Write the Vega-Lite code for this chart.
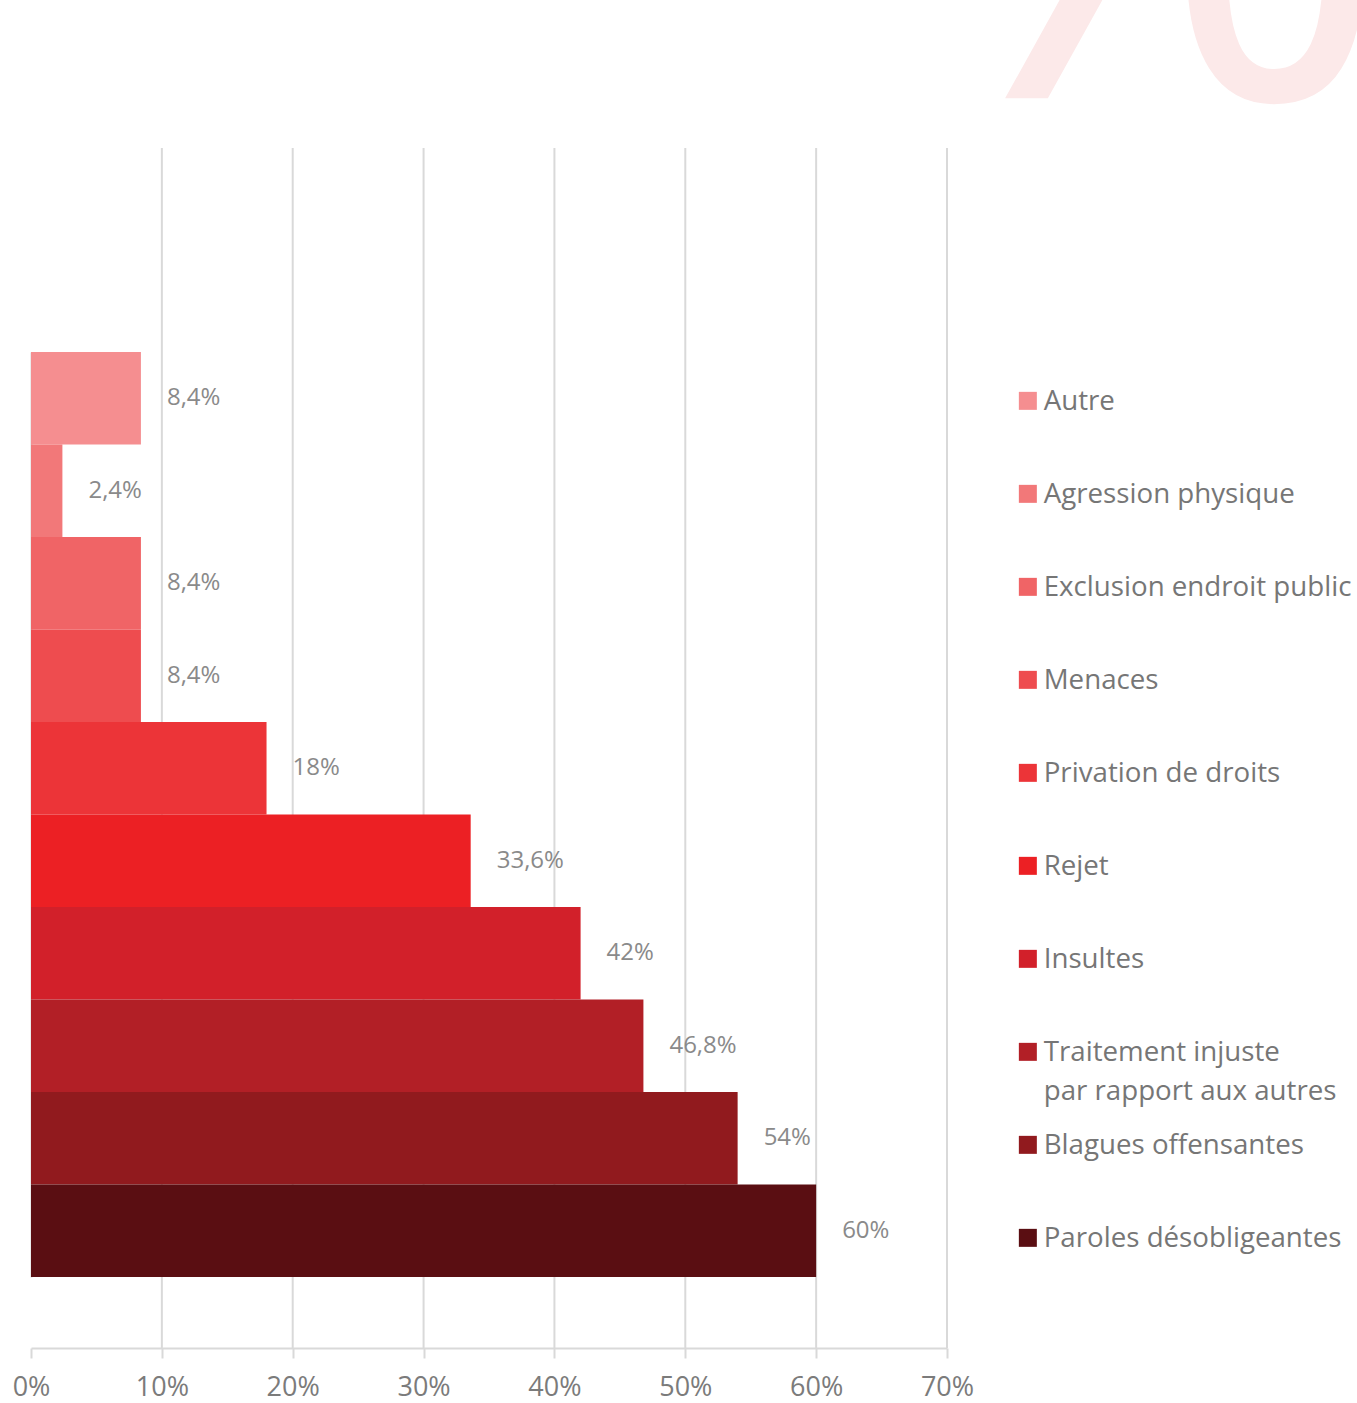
{
  "$schema": "https://vega.github.io/schema/vega-lite/v6.json",
  "width": 916,
  "height": 1333,
  "autosize": {"type": "none"},
  "padding": {"left": 31, "top": 15, "right": 410, "bottom": 55},
  "background": "white",
  "config": {
    "view": {"stroke": null},
    "font": "Open Sans",
    "locale": {"number": {"decimal": ",", "thousands": " ", "grouping": [3], "currency": ["", " €"]}}
  },
  "datasets": {
    "bars": [
      {"cat": "Autre", "v": 0.084},
      {"cat": "Agression physique", "v": 0.024},
      {"cat": "Exclusion endroit public", "v": 0.084},
      {"cat": "Menaces", "v": 0.084},
      {"cat": "Privation de droits", "v": 0.18},
      {"cat": "Rejet", "v": 0.336},
      {"cat": "Insultes", "v": 0.42},
      {"cat": "Traitement injuste par rapport aux autres", "v": 0.468},
      {"cat": "Blagues offensantes", "v": 0.54},
      {"cat": "Paroles désobligeantes", "v": 0.6}
    ],
    "grid": [{"g": 0.1}, {"g": 0.2}, {"g": 0.3}, {"g": 0.4}, {"g": 0.5}, {"g": 0.6}, {"g": 0.7}],
    "mark": [{"t": "%"}]
  },
  "resolve": {"scale": {"y": "independent"}},
  "layer": [
    {
      "layer": [
        {
          "data": {"name": "grid"},
          "mark": {"type": "rule", "color": "#d9d9d9", "strokeWidth": 2},
          "encoding": {
            "x": {
              "field": "g",
              "type": "quantitative",
              "scale": {"domain": [0, 0.7], "nice": false, "zero": true},
              "axis": {
                "values": [0, 0.1, 0.2, 0.3, 0.4, 0.5, 0.6, 0.7],
                "format": ".0%",
                "grid": false,
                "title": null,
                "domainColor": "#d9d9d9",
                "domainWidth": 2,
                "tickColor": "#d9d9d9",
                "tickWidth": 2,
                "tickSize": 10,
                "labelFontSize": 27,
                "labelColor": "#7b7b7b",
                "labelPadding": 16,
                "labelFlush": false,
                "labelOverlap": false,
                "labelFont": "Open Sans"
              }
            },
            "y": {"datum": 0.9002, "type": "quantitative", "scale": {"domain": [0, 1], "nice": false, "zero": false}, "axis": null},
            "y2": {"datum": 0}
          }
        },
        {
          "data": {"name": "mark"},
          "mark": {"type": "text", "fontSize": 600, "color": "#fce9e9", "align": "left", "baseline": "alphabetic", "font": "Open Sans"},
          "encoding": {
            "text": {"field": "t"},
            "x": {"datum": 0.662, "type": "quantitative"},
            "y": {"datum": 0.9375, "type": "quantitative"}
          }
        }
      ]
    },
    {
      "data": {"name": "bars"},
      "encoding": {
        "y": {
          "field": "cat",
          "type": "nominal",
          "sort": null,
          "scale": {"paddingInner": 0, "paddingOuter": 0, "range": [337, 1262]},
          "axis": {"orient": "left", "labels": false, "ticks": false, "title": null, "domain": true, "domainColor": "#d9d9d9", "domainWidth": 2, "grid": false}
        }
      },
      "layer": [
        {
          "mark": {"type": "bar"},
          "encoding": {
            "x": {
              "field": "v",
              "type": "quantitative",
              "scale": {"domain": [0, 0.7], "nice": false},
              "axis": {
                "values": [0, 0.1, 0.2, 0.3, 0.4, 0.5, 0.6, 0.7],
                "format": ".0%",
                "grid": false,
                "title": null,
                "domainColor": "#d9d9d9",
                "domainWidth": 2,
                "tickColor": "#d9d9d9",
                "tickWidth": 2,
                "tickSize": 10,
                "labelFontSize": 27,
                "labelColor": "#7b7b7b",
                "labelPadding": 16,
                "labelFlush": false,
                "labelOverlap": false,
                "labelFont": "Open Sans"
              }
            },
            "color": {
              "field": "cat",
              "type": "nominal",
              "scale": {
                "domain": ["Autre", "Agression physique", "Exclusion endroit public", "Menaces", "Privation de droits", "Rejet", "Insultes", "Traitement injuste par rapport aux autres", "Blagues offensantes", "Paroles désobligeantes"],
                "range": ["#f58e90", "#f27879", "#f06466", "#ee4c4f", "#ec3438", "#ec2024", "#d2202a", "#b21f26", "#911a1e", "#5a0e12"]
              },
              "legend": {
                "orient": "none",
                "legendX": 983,
                "legendY": 372,
                "direction": "vertical",
                "columns": 1,
                "gridAlign": "all",
                "rowPadding": 25,
                "title": null,
                "symbolType": "square",
                "symbolSize": 324,
                "symbolStrokeWidth": 0,
                "symbolOpacity": 1,
                "labelFont": "Open Sans",
                "labelFontSize": 27.7,
                "labelColor": "#767676",
                "labelOffset": 2,
                "labelLimit": 0,
                "labelBaseline": "top",
                "labelExpr": "datum.label == 'Traitement injuste par rapport aux autres' ? ['Traitement injuste', 'par rapport aux autres'] : datum.label",
                "encode": {"labels": {"update": {"dy": {"value": -13}, "lineHeight": {"value": 39}}}}
              }
            }
          }
        },
        {
          "mark": {"type": "text", "align": "left", "baseline": "middle", "dx": 26, "fontSize": 24, "color": "#8a8a8a", "font": "Open Sans"},
          "encoding": {
            "x": {"field": "v", "type": "quantitative"},
            "text": {"field": "v", "type": "quantitative", "format": ".1~%"}
          }
        }
      ]
    }
  ]
}
